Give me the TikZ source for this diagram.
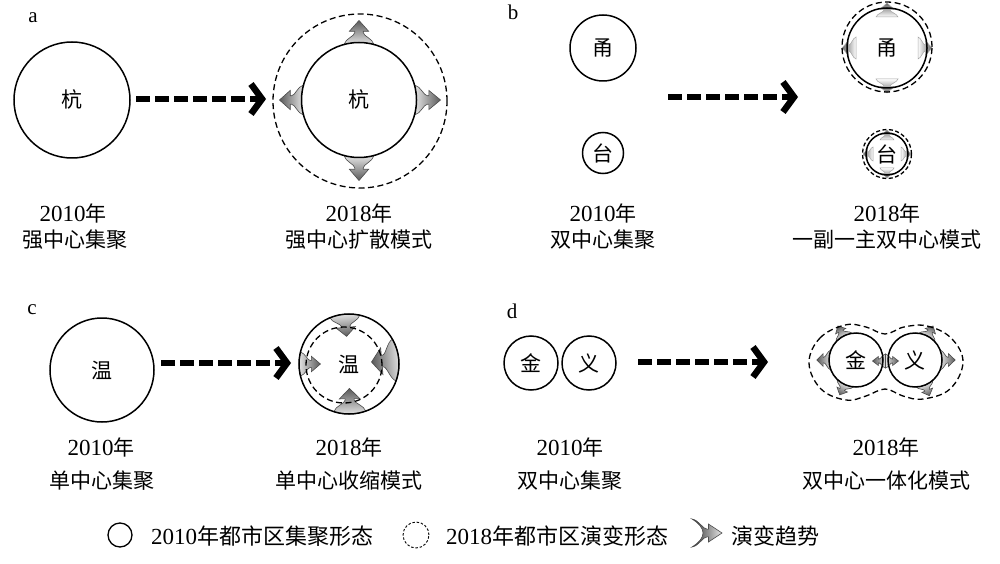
\documentclass[tikz,border=0pt]{standalone}
\usepackage{fontspec}
\setmainfont{Liberation Serif}
\newfontfamily\cjk{Noto Sans CJK SC}
\newcommand\zh[1]{{\cjk\fontsize{21}{25}\selectfont #1}}
\newcommand\zhl[1]{{\cjk\fontsize{22}{26}\selectfont #1}}
\newcommand\flare[7]{%
  \path[#7, transform canvas={shift={(#1,#2)}, rotate=#3}]
    (0,{-(#5)/2}) .. controls ({4*(#6)/3},{-(#5)/6}) and ({4*(#6)/3},{(#5)/6}) .. (0,{(#5)/2})
    .. controls ({0.25*(#4)},{0.45*(#5)}) and ({0.35*(#4)},{0.14*(#5)}) .. ({0.5*(#4)},{0.14*(#5)})
    -- ({0.55*(#4)},{0.14*(#5)}) -- ({0.55*(#4)},{0.32*(#5)}) -- (#4,0)
    -- ({0.55*(#4)},{-0.32*(#5)}) -- ({0.55*(#4)},{-0.14*(#5)}) -- ({0.5*(#4)},{-0.14*(#5)})
    .. controls ({0.35*(#4)},{-0.14*(#5)}) and ({0.25*(#4)},{-0.45*(#5)}) .. (0,{-(#5)/2}) -- cycle;}
\newcommand\oflare[7]{%
  \pgfmathsetmacro\fs{(#6)*(#6)/(8*(#3))}%
  \pgfmathsetmacro\fbx{#1+(#3-\fs)*cos(#4)}%
  \pgfmathsetmacro\fby{#2-(#3-\fs)*sin(#4)}%
  \flare{\fbx}{\fby}{#4}{#5}{#6}{\fs}{#7}}
\newcommand\iflare[7]{%
  \pgfmathsetmacro\fs{(#6)*(#6)/(8*(#3))}%
  \pgfmathsetmacro\fbx{#1+(#3-\fs)*cos(#4)}%
  \pgfmathsetmacro\fby{#2-(#3-\fs)*sin(#4)}%
  \pgfmathsetmacro\fang{#4+180}%
  \flare{\fbx}{\fby}{\fang}{#5}{#6}{-\fs}{#7}}
\newcommand\sflare[7]{%
  \pgfmathsetmacro\fbx{#1+(#3)*cos(#4)}%
  \pgfmathsetmacro\fby{#2-(#3)*sin(#4)}%
  \flare{\fbx}{\fby}{#4}{#5}{#6}{0}{#7}}
\tikzset{
  city/.style={circle, draw, line width=1.5pt, inner sep=0pt, font=\cjk\fontsize{21}{25}\selectfont},
  newring/.style={draw, line width=1.3pt, dash pattern=on 6pt off 3.5pt},
  bigarrow/.style={line width=6.5pt, dash pattern=on 14pt off 5pt},
  chev/.style={line width=6.5pt, line join=miter, miter limit=10},
  lab/.style={font=\fontsize{23}{27}\selectfont, inner sep=0pt},
  letter/.style={font=\fontsize{21}{25}\selectfont, inner sep=0pt, anchor=base},
  flr/.style={draw=black!70, line width=0.6pt, left color=black!10, right color=black!65},
  flrlight/.style={draw=black!35, line width=0.5pt, left color=white, right color=black!60},
  flrleg/.style={draw=black!70, line width=0.6pt, left color=black!80, right color=black!10},
}
\begin{document}
\begin{tikzpicture}[x=1pt,y=-1pt]
\useasboundingbox (0,0) rectangle (1000,564);
% panel letters
\node[letter] (la) at (33,23) {a};
\node[letter] (lb) at (513,20) {b};
\node[letter] (lc) at (32,314) {c};
\node[letter] (ld) at (512,318) {d};

% ---------- panel a ----------
\oflare{359}{100}{57.5}{90}{24}{30}{flr}
\oflare{359}{100}{57.5}{0}{26}{30}{flr}
\oflare{359}{100}{57.5}{270}{25}{30}{flr}
\oflare{359}{100}{57.5}{180}{24}{30}{flr}
\node[city, minimum size=116pt] (hangA) at (72,100) {杭};
\node[city, minimum size=115pt] (hangB) at (359,100) {杭};
\draw[newring] (360,101) circle[radius=87pt];
\coordinate (a1) at (136,99);
\coordinate (a2) at (262,99);
\draw[bigarrow] (a1) -- (a2);
\draw[chev] (a2) ++(-11,-15) -- (a2) -- ++(-11,15);
\node[lab] (ta1) at (73,213) {2010\zh{年}};
\node[lab] (ta2) at (75,240) {\zh{强中心集聚}};
\node[lab] (ta3) at (359,213) {2018\zh{年}};
\node[lab] (ta4) at (359,240) {\zh{强中心扩散模式}};

% ---------- panel b ----------
\sflare{887}{48}{31}{90}{14}{22}{flrlight}
\sflare{887}{48}{31}{0}{14}{22}{flrlight}
\sflare{887}{48}{31}{270}{14}{22}{flrlight}
\sflare{887}{48}{31}{180}{14}{22}{flrlight}
\sflare{887}{154}{14}{90}{10}{14}{flrlight}
\sflare{887}{154}{14}{0}{10}{14}{flrlight}
\sflare{887}{154}{14}{270}{10}{14}{flrlight}
\sflare{887}{154}{14}{180}{10}{14}{flrlight}
\node[city, minimum size=66pt] (yongA) at (603,48) {甬};
\node[city, minimum size=41pt] (taiA) at (603,153) {台};
\node[city, minimum size=80pt] (yongB) at (887,48) {甬};
\node[city, minimum size=42pt] (taiB) at (887,154) {台};
\draw[newring] (887,47) circle[radius=45pt];
\draw[newring, dash pattern=on 4pt off 2.5pt] (887,154) circle[radius=24.5pt];
\coordinate (b1) at (668,97);
\coordinate (b2) at (794,97);
\draw[bigarrow] (b1) -- (b2);
\draw[chev] (b2) ++(-11,-15) -- (b2) -- ++(-11,15);
\node[lab] (tb1) at (603,213) {2010\zh{年}};
\node[lab] (tb2) at (603,240) {\zh{双中心集聚}};
\node[lab] (tb3) at (887,213) {2018\zh{年}};
\node[lab] (tb4) at (887,240) {\zh{一副一主双中心模式}};

% ---------- panel c ----------
\iflare{349}{364}{50}{95}{20}{30}{flr}
\iflare{349}{364}{50}{5}{23}{42}{flr}
\iflare{349}{364}{50}{271}{23}{32}{flr}
\iflare{349}{364}{50}{180}{20}{24}{flr}
\node[city, minimum size=104pt] (wenA) at (102,370) {温};
\node[city, minimum size=100pt] (wenB) at (349,364) {温};
\draw[newring] (344,365) circle[radius=38pt];
\coordinate (c1) at (161,363);
\coordinate (c2) at (287,363);
\draw[bigarrow] (c1) -- (c2);
\draw[chev] (c2) ++(-11,-15) -- (c2) -- ++(-11,15);
\node[lab] (tc1) at (101,447) {2010\zh{年}};
\node[lab] (tc2) at (102,481) {\zh{单中心集聚}};
\node[lab] (tc3) at (349,447) {2018\zh{年}};
\node[lab] (tc4) at (349,481) {\zh{单中心收缩模式}};

% ---------- panel d ----------
\oflare{856}{360}{27}{180}{14}{20}{flr}
\oflare{856}{360}{27}{118}{13}{18}{flr}
\oflare{856}{360}{27}{245}{13}{18}{flr}
\oflare{915}{360}{27}{0}{15}{20}{flr}
\oflare{915}{360}{27}{62}{13}{18}{flr}
\oflare{915}{360}{27}{292}{13}{18}{flr}
\flare{885.5}{361}{180}{13}{14}{0}{flr}
\flare{885.5}{361}{0}{13}{14}{0}{flr}
\node[city, minimum size=54pt] (jinA) at (531,363) {金};
\node[city, minimum size=54pt] (yiA) at (589,363) {义};
\node[city, minimum size=54pt] (jinB) at (856,360) {金};
\node[city, minimum size=54pt] (yiB) at (915,360) {义};
\draw[newring] plot[smooth cycle, tension=0.65] coordinates {
  (809,363) (820,338) (845,325) (866,327) (885,334) (904,327) (927,326)
  (951,338) (963,362) (950,389) (923,399) (903,396) (885,389) (866,396) (846,400) (821,389)};
\coordinate (d1) at (638,362);
\coordinate (d2) at (764,362);
\draw[bigarrow] (d1) -- (d2);
\draw[chev] (d2) ++(-11,-15) -- (d2) -- ++(-11,15);
\node[lab] (td1) at (570,447) {2010\zh{年}};
\node[lab] (td2) at (570,481) {\zh{双中心集聚}};
\node[lab] (td3) at (886,447) {2018\zh{年}};
\node[lab] (td4) at (886,481) {\zh{双中心一体化模式}};

% ---------- legend ----------
\node[circle, draw, line width=1.3pt, minimum size=24pt, inner sep=0pt] (leg1) at (120,535) {};
\node[lab, anchor=west] (legt1) at (151,536) {2010\zhl{年都市区集聚形态}};
\node[circle, draw, line width=0.9pt, dash pattern=on 2.5pt off 1.8pt, minimum size=26pt, inner sep=0pt] (leg2) at (416,535) {};
\node[lab, anchor=west] (legt2) at (446,536) {2018\zhl{年都市区演变形态}};
\flare{692}{533}{0}{30}{28}{11}{flrleg}
\node[lab, anchor=west] (legt3) at (731,536) {\zhl{演变趋势}};
\end{tikzpicture}
\end{document}
